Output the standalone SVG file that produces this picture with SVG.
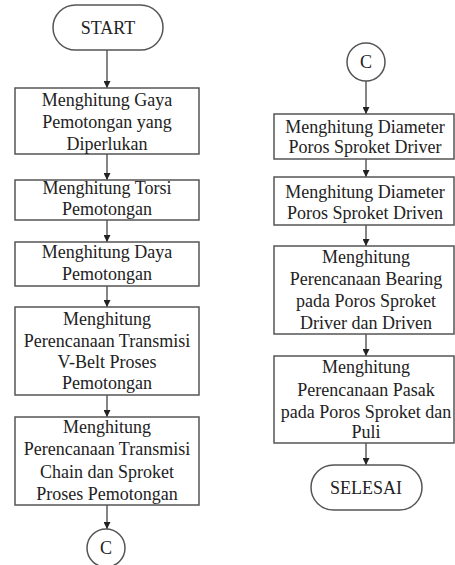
<svg xmlns="http://www.w3.org/2000/svg" width="455" height="565" viewBox="0 0 455 565">
<defs>
<style>
.b{fill:#fff;stroke:#555;stroke-width:1.5}
.t{font-family:"Liberation Serif","Times New Roman",serif;font-size:18px;fill:#222;text-anchor:middle}
.c{stroke:#444;stroke-width:1.3;fill:none;marker-end:url(#a)}
</style>
<marker id="a" viewBox="0 0 10 10" refX="10" refY="5" markerWidth="7" markerHeight="7" markerUnits="userSpaceOnUse" orient="auto">
<path d="M0,0 L10,5 L0,10 z" fill="#222"/>
</marker>
</defs>
<rect width="455" height="565" fill="#fff"/>
<g id="connectors">
<line class="c" x1="107" y1="50" x2="107" y2="88"/>
<line class="c" x1="107" y1="154" x2="107" y2="180"/>
<line class="c" x1="107" y1="220" x2="107" y2="242"/>
<line class="c" x1="107" y1="286" x2="107" y2="307"/>
<line class="c" x1="107" y1="395" x2="107" y2="417"/>
<line class="c" x1="107" y1="505" x2="107" y2="529"/>
<line class="c" x1="366" y1="81" x2="366" y2="114"/>
<line class="c" x1="366" y1="159" x2="366" y2="177"/>
<line class="c" x1="366" y1="225" x2="366" y2="246"/>
<line class="c" x1="366" y1="334" x2="366" y2="356"/>
<line class="c" x1="366" y1="443" x2="366" y2="465"/>
</g>
<g id="start">
<rect class="b" x="53" y="5" width="110" height="45" rx="22.5"/>
<text class="t" x="108" y="34">START</text>
</g>
<g id="n1">
<rect class="b" x="15" y="88" width="184" height="66"/>
<text class="t" x="107" y="106">Menghitung Gaya</text>
<text class="t" x="107" y="128">Pemotongan yang</text>
<text class="t" x="107" y="150">Diperlukan</text>
</g>
<g id="n2">
<rect class="b" x="15" y="180" width="184" height="40"/>
<text class="t" x="107" y="194">Menghitung Torsi</text>
<text class="t" x="107" y="215">Pemotongan</text>
</g>
<g id="n3">
<rect class="b" x="15" y="242" width="184" height="44"/>
<text class="t" x="107" y="258">Menghitung Daya</text>
<text class="t" x="107" y="280">Pemotongan</text>
</g>
<g id="n4">
<rect class="b" x="15" y="307" width="184" height="88"/>
<text class="t" x="107" y="325">Menghitung</text>
<text class="t" x="107" y="347">Perencanaan Transmisi</text>
<text class="t" x="107" y="368">V-Belt Proses</text>
<text class="t" x="107" y="389">Pemotongan</text>
</g>
<g id="n5">
<rect class="b" x="15" y="417" width="184" height="88"/>
<text class="t" x="107" y="433">Menghitung</text>
<text class="t" x="107" y="455">Perencanaan Transmisi</text>
<text class="t" x="107" y="478">Chain dan Sproket</text>
<text class="t" x="107" y="500">Proses Pemotongan</text>
</g>
<g id="c1">
<circle class="b" cx="106" cy="548" r="19"/>
<text class="t" x="106" y="554">C</text>
</g>
<g id="c2">
<circle class="b" cx="366" cy="62" r="19"/>
<text class="t" x="366" y="68">C</text>
</g>
<g id="n6">
<rect class="b" x="274" y="114" width="180" height="45"/>
<text class="t" x="365" y="133">Menghitung Diameter</text>
<text class="t" x="365" y="153">Poros Sproket Driver</text>
</g>
<g id="n7">
<rect class="b" x="274" y="177" width="180" height="48"/>
<text class="t" x="365" y="198">Menghitung Diameter</text>
<text class="t" x="365" y="219">Poros Sproket Driven</text>
</g>
<g id="n8">
<rect class="b" x="274" y="246" width="180" height="88"/>
<text class="t" x="366" y="263">Menghitung</text>
<text class="t" x="366" y="285">Perencanaan Bearing</text>
<text class="t" x="366" y="307">pada Poros Sproket</text>
<text class="t" x="366" y="329">Driver dan Driven</text>
</g>
<g id="n9">
<rect class="b" x="274" y="356" width="180" height="87"/>
<text class="t" x="366" y="373">Menghitung</text>
<text class="t" x="366" y="396">Perencanaan Pasak</text>
<text class="t" x="366" y="418">pada Poros Sproket dan</text>
<text class="t" x="366" y="438">Puli</text>
</g>
<g id="end">
<rect class="b" x="311" y="465" width="111" height="45" rx="22.5"/>
<text class="t" x="366" y="494">SELESAI</text>
</g>
</svg>
